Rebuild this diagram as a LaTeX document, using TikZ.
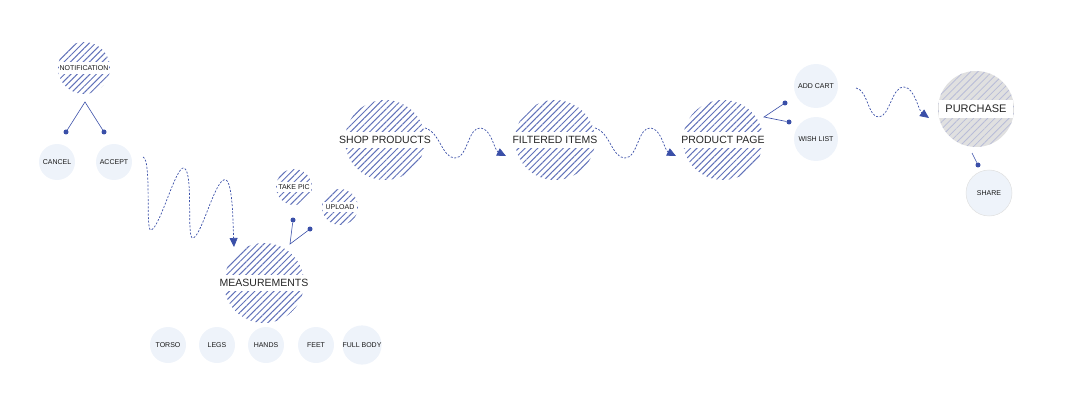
\documentclass[tikz,border=0pt]{standalone}
\usepackage{fontspec}
\setmainfont{Liberation Sans}
\usetikzlibrary{patterns.meta,arrows.meta}
\definecolor{hb}{HTML}{3A4FA8}
\definecolor{lf}{HTML}{EEF3FA}
\definecolor{gh}{HTML}{B8BCD8}
\tikzset{
  hatch/.style={circle,inner sep=0pt,minimum size=#1,pattern={Lines[angle=45,distance=4.5pt,line width=1pt]},pattern color=hb!80},
  ghatch/.style={circle,inner sep=0pt,minimum size=#1,fill=black!12,postaction={pattern={Lines[angle=45,distance=5pt,line width=0.8pt]},pattern color=gh}},
  band/.style={fill=white,inner xsep=2pt,inner ysep=4pt,text=black!85},
  sband/.style={fill=white,inner xsep=1pt,inner ysep=3pt,text=black!90,font=\fontsize{7}{8}\selectfont},
  soft/.style={circle,fill=lf,inner sep=0pt,minimum size=#1,font=\fontsize{7}{8}\selectfont,text=black!90},
  stem/.style={draw=hb,line width=0.6pt},
  dot/.style={circle,fill=hb,inner sep=0pt,minimum size=5pt},
  wave/.style={draw=hb,line width=0.7pt,dash pattern=on 2pt off 1.6pt,-{Triangle[length=9pt,width=8pt]}},
}
\begin{document}
\begin{tikzpicture}[x=1pt,y=-1pt]
\useasboundingbox (0,0) rectangle (1070,406);
% notification
\node[hatch=52pt] (nc) at (84,68) {};
\node[sband,minimum width=50pt,inner ysep=4pt] (nt) at (84,68) {NOTIFICATION};
\node[soft=36pt] (cancel) at (57,162) {CANCEL};
\node[soft=36pt] (accept) at (114,162) {ACCEPT};
\coordinate (na) at (85,102);
\node[dot] (d1) at (66,132) {};
\node[dot] (d2) at (104,132) {};
\draw[stem] (d1) -- (na) -- (d2);
% measurements
\node[hatch=80pt] (mc) at (264,283) {};
\node[band,font=\fontsize{10.5}{12}\selectfont] (mt) at (264,283) {MEASUREMENTS};
\node[hatch=36pt] (tp) at (294,187) {};
\node[sband,minimum width=34pt] at (294,187) {TAKE PIC};
\node[hatch=36pt] (up) at (340,207) {};
\node[sband,minimum width=34pt] at (340,207) {UPLOAD};
\coordinate (ma) at (290,244);
\node[dot] (d3) at (293,220) {};
\node[dot] (d4) at (310,229) {};
\draw[stem] (d3) -- (ma) -- (d4);
\node[soft=36pt] (torso) at (168,345) {TORSO};
\node[soft=36pt] (legs) at (217,345) {LEGS};
\node[soft=36pt] (hands) at (266,345) {HANDS};
\node[soft=36pt] (feet) at (316,345) {FEET};
\node[soft=36pt] (full) at (362,345) {FULL BODY};
% main row
\node[hatch=80pt] (sc) at (385,140) {};
\node[band,font=\fontsize{10.5}{12}\selectfont] (st) at (385,140) {SHOP PRODUCTS};
\node[hatch=80pt] (fc) at (555,140) {};
\node[band,font=\fontsize{10.5}{12}\selectfont] (ft) at (555,140) {FILTERED ITEMS};
\node[hatch=80pt] (pc) at (723,140) {};
\node[band,font=\fontsize{10.5}{12}\selectfont] (pt) at (723,140) {PRODUCT PAGE};
\node[soft=44pt] (cart) at (816,86) {ADD CART};
\node[soft=44pt] (wish) at (816,139) {WISH LIST};
\coordinate (pa) at (764,117);
\node[dot] (d5) at (785,103) {};
\node[dot] (d6) at (789,122) {};
\draw[stem] (d5) -- (pa) -- (d6);
% purchase
\node[ghatch=76pt] (puc) at (976,109) {};
\node[band,font=\fontsize{11}{12}\selectfont,minimum width=74pt,inner ysep=5pt] (put) at (976,109) {PURCHASE};
\node[soft=46pt,draw=black!12,line width=0.5pt] (share) at (989,193) {SHARE};
\coordinate (pb) at (972,153);
\node[dot] (d7) at (978,165) {};
\draw[stem] (pb) -- (d7);
% waves
\coordinate (w1s) at (143,157); \coordinate (w1e) at (234,247);
\draw[wave] (w1s) .. controls (152,160) and (145,232) .. (151,230)
  .. controls (160,228) and (176,165) .. (184,168)
  .. controls (194,172) and (186,240) .. (193,238)
  .. controls (202,236) and (216,175) .. (226,180)
  .. controls (233,184) and (233,225) .. (w1e);
\coordinate (w2s) at (425,128); \coordinate (w2e) at (506,156);
\draw[wave] (w2s) .. controls (440,132) and (442,158) .. (455,158)
  .. controls (468,158) and (468,126) .. (481,128)
  .. controls (492,130) and (494,150) .. (w2e);
\coordinate (w3s) at (595,128); \coordinate (w3e) at (676,156);
\draw[wave] (w3s) .. controls (610,132) and (612,158) .. (625,158)
  .. controls (638,158) and (638,126) .. (651,128)
  .. controls (662,130) and (664,150) .. (w3e);
\coordinate (w4s) at (856,88); \coordinate (w4e) at (929,118);
\draw[wave] (w4s) .. controls (868,90) and (868,118) .. (879,117)
  .. controls (890,116) and (892,86) .. (904,87)
  .. controls (915,88) and (918,110) .. (w4e);
\end{tikzpicture}
\end{document}
